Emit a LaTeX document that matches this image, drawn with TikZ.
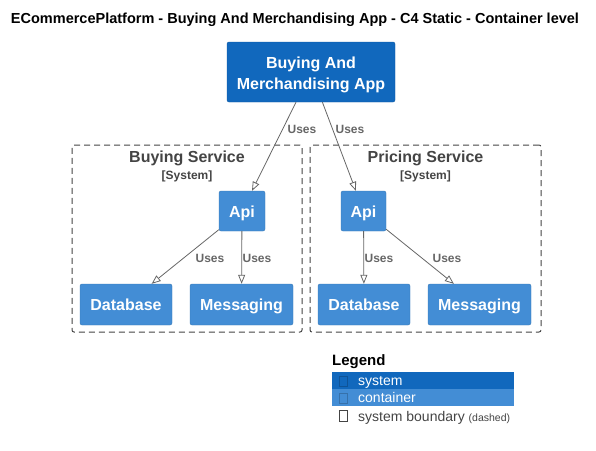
\documentclass[tikz,border=0pt]{standalone}
\usepackage{fontspec}
\setmainfont{Liberation Sans}
\usepackage{tikz}
\usetikzlibrary{arrows.meta,positioning}
\definecolor{sysblue}{HTML}{1168BD}
\definecolor{conblue}{HTML}{438DD5}
\definecolor{bdgray}{HTML}{444444}
\definecolor{relgray}{HTML}{666666}
\newcommand{\fs}[1]{\fontsize{#1}{#1}\selectfont}
\tikzstyle{softwaresys} = [fill=sysblue, draw=sysblue!85!black, rounded corners=2pt, inner sep=0pt]
\tikzstyle{containerbox} = [fill=conblue, draw=conblue!85!black, rounded corners=2pt, text=white, font=\fs{16}\bfseries, inner sep=0pt, text height=13.5pt, text depth=1pt, minimum height=41pt]
\tikzstyle{sysboundary} = [draw=bdgray, line width=1pt, dash pattern=on 6pt off 4pt, rounded corners=2pt, inner sep=0pt]
\tikzstyle{boundtitle} = [text=bdgray, font=\fs{16}\bfseries, inner sep=0pt]
\tikzstyle{rel} = [draw=relgray, line width=0.8pt, -{Triangle[open,length=9pt,width=7pt]}]
\tikzstyle{uses} = [text=relgray, font=\fs{12}\bfseries, inner sep=0pt]
\tikzstyle{legendrow} = [minimum width=182pt, minimum height=17pt, inner sep=0pt]
\tikzstyle{legendtext} = [font=\fs{14}, anchor=base west, inner sep=0pt]

\begin{document}
\begin{tikzpicture}[x=1pt,y=-1pt]
\useasboundingbox (0,0) rectangle (596,450);
\node[font=\fs{14.5}\bfseries] (title) at (295,20) {ECommercePlatform - Buying And Merchandising App - C4 Static - Container level};

\node[softwaresys, minimum width=168pt, minimum height=60pt,
  label={[yshift=-3pt, text=white, font=\fs{16}\bfseries, align=center]center:{Buying And\\[5pt]Merchandising App}}] (app) at (311,72) {};

% boundaries
\node[sysboundary, minimum width=230pt, minimum height=187pt] (buying) at (187,238.5) {};
\node[boundtitle] (buyingname) at (187,158) {Buying Service};
\node[text=bdgray, font=\fs{12}\bfseries, inner sep=0pt, below=5pt of buyingname] {[System]};
\node[sysboundary, minimum width=231pt, minimum height=187pt] (pricing) at (425.5,238.5) {};
\node[boundtitle] (pricingname) at (425.5,158) {Pricing Service};
\node[text=bdgray, font=\fs{12}\bfseries, inner sep=0pt, below=5pt of pricingname] {[System]};

% containers
\node[containerbox, minimum width=46pt, minimum height=40pt] (bapi) at (242,211) {Api};
\node[containerbox, minimum width=92pt] (bdb) at (126,304.5) {Database};
\node[containerbox, minimum width=103pt] (bmsg) at (241.5,304.5) {Messaging};
\node[containerbox, minimum width=45pt, minimum height=40pt] (papi) at (363.5,211) {Api};
\node[containerbox, minimum width=92pt] (pdb) at (364,304.5) {Database};
\node[containerbox, minimum width=103pt] (pmsg) at (479.5,304.5) {Messaging};

% relations
\draw[rel] (app) -- (bapi);
\draw[rel] (app) -- (papi);
\draw[rel] (bapi) -- (bdb);
\draw[rel] (bapi) -- (bmsg);
\draw[rel] (papi) -- (pdb);
\draw[rel] (papi) -- (pmsg);
\node[uses] at (302,129) {Uses};
\node[uses] at (350,129) {Uses};
\node[uses] at (210,258) {Uses};
\node[uses] at (257,258) {Uses};
\node[uses] at (379,258) {Uses};
\node[uses] at (447,258) {Uses};

% legend
\node[font=\fs{15}\bfseries, anchor=west, inner sep=0pt] (legend) at (332,362) {Legend};
\node[legendrow, fill=sysblue, anchor=north west] (lsys) at (332,372) {};
\node[legendrow, fill=conblue, anchor=north west] (lcon) at (332,389) {};
\node[legendrow, anchor=north west] (lbound) at (332,406) {};
\draw[sysblue!80!black] (339,376) rectangle (347,386);
\draw[conblue!80!black] (339,393) rectangle (347,403);
\draw[bdgray] (339,410) rectangle (347,421);
\node[legendtext, text=white] at (358,385.5) {system};
\node[legendtext, text=white] at (358,402) {container};
\node[legendtext, text=bdgray] at (358,421) {system boundary \fs{10.5}(dashed)};
\end{tikzpicture}
\end{document}
